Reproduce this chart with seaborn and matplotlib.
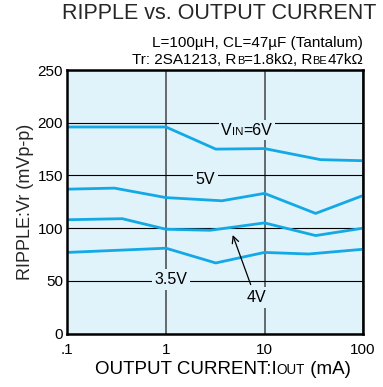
import numpy as np
import pandas as pd
import matplotlib
matplotlib.use('Agg')
import matplotlib.pyplot as plt
import seaborn as sns
from matplotlib.offsetbox import TextArea, HPacker, AnnotationBbox

# ripple (mVp-p) vs output current (mA)
iout_6v = [0.1, 1.0, 3.2, 10, 37, 100]
ripple_6v = [196, 196, 175, 175.5, 165, 164]
iout_5v = [0.1, 0.3, 1.0, 3.7, 10, 33, 100]
ripple_5v = [137, 138, 129, 126, 133, 114, 131]
iout_4v = [0.1, 0.36, 1.0, 2.8, 10, 33, 100]
ripple_4v = [108, 109, 99, 98, 105, 93, 100]
iout_35v = [0.1, 1.0, 3.2, 10, 28, 100]
ripple_35v = [77, 81, 67, 77, 75.5, 80]

y_ticks = [0, 50, 100, 150, 200, 250]
x_ticks = [0.1, 1, 10, 100]
x_ticklabels = ['.1', '1', '10', '100']

df = pd.concat([
    pd.DataFrame({'iout': iout_6v, 'ripple': ripple_6v, 'vin': '6V'}),
    pd.DataFrame({'iout': iout_5v, 'ripple': ripple_5v, 'vin': '5V'}),
    pd.DataFrame({'iout': iout_4v, 'ripple': ripple_4v, 'vin': '4V'}),
    pd.DataFrame({'iout': iout_35v, 'ripple': ripple_35v, 'vin': '3.5V'}),
])

sns.set_style('white')
plt.rcParams['font.family'] = ['Liberation Sans', 'DejaVu Sans']

BG = '#E0F2FA'
CYAN = '#12A9E6'

fig = plt.figure(figsize=(3.83, 3.87), dpi=100)
ax = fig.add_axes([0.176, 0.138, 0.772, 0.681])
ax.set_facecolor(BG)

sns.lineplot(data=df, x='iout', y='ripple', hue='vin', palette=[CYAN] * 4,
             estimator=None, sort=False, legend=False, lw=2.0, ax=ax, zorder=3)

ax.set_xscale('log')
ax.set_xlim(0.1, 100)
ax.set_ylim(0, 250)
ax.set_xticks(x_ticks)
ax.set_xticklabels(x_ticklabels)
ax.set_yticks(y_ticks)
ax.minorticks_off()
ax.tick_params(length=0, labelsize=11, colors='black')
ax.tick_params(axis='x', pad=7)
ax.tick_params(axis='y', pad=3)
ax.xaxis.grid(True, color='#444444', lw=1.1)
ax.yaxis.grid(True, color='black', lw=0.8)
ax.set_axisbelow(True)
for s in ax.spines.values():
    s.set_linewidth(1.8)
    s.set_color('black')
    s.set_zorder(5)

ax.set_xlabel('')
ax.set_ylabel('RIPPLE:Vr (mVp-p)', fontsize=13, labelpad=3)


def mixed(parts, xy, size, xycoords='data', align=(0.5, 0.5), bg=None):
    # text with small-cap style subscripts (VIN, RB, IOUT ...)
    kids = [TextArea(t, textprops=dict(size=size * 0.72 if small else size, color='black'))
            for t, small in parts]
    box = HPacker(children=kids, align='baseline', pad=0, sep=0)
    ab = AnnotationBbox(box, xy, xycoords=xycoords, box_alignment=align,
                        frameon=bg is not None, pad=0.2,
                        bboxprops=dict(fc=bg if bg else 'none', ec='none'),
                        annotation_clip=False, zorder=4)
    ax.add_artist(ab)


# curve labels
mixed([('V', False), ('IN', True), ('=6V', False)], (6.6, 193), 11.5, bg=BG)
mixed([('5V', False)], (2.52, 146), 11.5, bg=BG)
mixed([('3.5V', False)], (1.12, 51.5), 11.5, bg=BG)
mixed([('4V', False)], (8.2, 34.5), 11.5, bg=BG)
ax.annotate('', xy=(4.65, 96), xytext=(7.4, 44),
            arrowprops=dict(arrowstyle='->', color='black', lw=0.9, mutation_scale=12),
            zorder=4)

# x label
mixed([('OUTPUT CURRENT:I', False), ('OUT', True), (' (mA)', False)],
      (0.581, 0.044), 13.5, xycoords='figure fraction')

# title and conditions
fig.text(0.984, 0.966, 'RIPPLE vs. OUTPUT CURRENT', ha='right', va='center', fontsize=15.5)
mixed([('L=100\u00b5H, CL=47\u00b5F (Tantalum)', False)], (1.0, 0.889), 11,
      xycoords=('axes fraction', 'figure fraction'), align=(1, 0.5))
mixed([('Tr: 2SA1213, R', False), ('B', True), ('=1.8k\u03a9, R', False), ('BE', True),
       ('47k\u03a9', False)], (1.0, 0.845), 11,
      xycoords=('axes fraction', 'figure fraction'), align=(1, 0.5))

fig.savefig('out.png', dpi=100)
